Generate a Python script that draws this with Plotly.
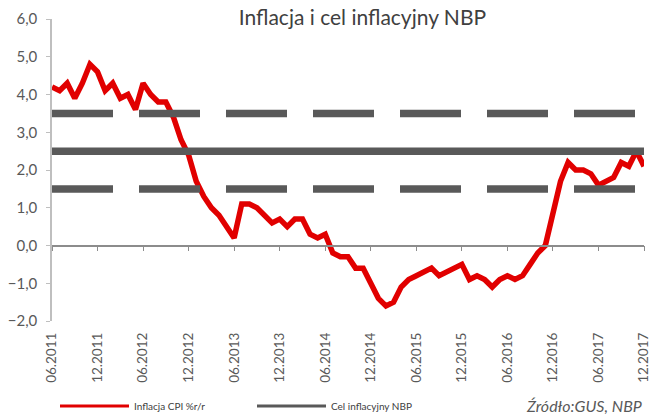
import plotly.graph_objects as go

# monthly CPI y/y, 06.2011 .. 12.2017
cpi = [
    4.2, 4.1, 4.3, 3.9, 4.3, 4.8, 4.6,                          # 2011 VI-XII
    4.1, 4.3, 3.9, 4.0, 3.6, 4.3, 4.0, 3.8, 3.8, 3.4, 2.8, 2.4,  # 2012
    1.7, 1.3, 1.0, 0.8, 0.5, 0.2, 1.1, 1.1, 1.0, 0.8, 0.6, 0.7,  # 2013
    0.5, 0.7, 0.7, 0.3, 0.2, 0.3, -0.2, -0.3, -0.3, -0.6, -0.6, -1.0,  # 2014
    -1.4, -1.6, -1.5, -1.1, -0.9, -0.8, -0.7, -0.6, -0.8, -0.7, -0.6, -0.5,  # 2015
    -0.9, -0.8, -0.9, -1.1, -0.9, -0.8, -0.9, -0.8, -0.5, -0.2, 0.0, 0.8,  # 2016
    1.7, 2.2, 2.0, 2.0, 1.9, 1.6, 1.7, 1.8, 2.2, 2.1, 2.5, 2.1,  # 2017
]
target = 2.5
band_upper = 3.5
band_lower = 1.5
tick_labels = ["06.2011", "12.2011", "06.2012", "12.2012", "06.2013", "12.2013",
               "06.2014", "12.2014", "06.2015", "12.2015", "06.2016", "12.2016",
               "06.2017", "12.2017"]

months = list(range(len(cpi)))
tick_pos = months[::6]

RED = "#e10000"
GREY = "#595959"
AXIS = "#8c8c8c"
FONT = "Lato"

fig = go.Figure()

fig.add_trace(go.Scatter(x=months, y=cpi, mode="lines", showlegend=False,
                         line=dict(color=RED, width=5.5)))
for lvl in (band_upper, band_lower):
    fig.add_trace(go.Scatter(x=months, y=[lvl] * len(months), mode="lines",
                             showlegend=False, xaxis="x2",
                             line=dict(color=GREY, width=7.5, dash="61px,26px")))
fig.add_trace(go.Scatter(x=months, y=[target] * len(months), mode="lines",
                         showlegend=False, xaxis="x2",
                         line=dict(color=GREY, width=7.5)))

# legend entries
fig.add_trace(go.Scatter(x=[None], y=[None], mode="lines", name="Inflacja CPI %r/r",
                         line=dict(color=RED, width=3)))
fig.add_trace(go.Scatter(x=[None], y=[None], mode="lines", name="Cel inflacyjny NBP",
                         line=dict(color=GREY, width=3)))

fig.update_layout(
    width=659, height=416,
    margin=dict(l=52, r=15, t=19, b=95),
    paper_bgcolor="white", plot_bgcolor="white",
    separators=", ",
    font=dict(family=FONT, color=GREY, size=13),
    title=dict(text="Inflacja i cel inflacyjny NBP", x=0.55, xanchor="center",
               y=1 - 18 / 416, yanchor="middle",
               font=dict(family=FONT, size=21, color="#404040")),
    xaxis=dict(range=[0, 78], tickmode="array", tickvals=tick_pos, ticktext=tick_labels,
               tickangle=-90, showgrid=False, zeroline=False, showline=False,
               ticks="", ticklabelstandoff=8, automargin=False,
               tickfont=dict(size=13.5, color=GREY)),
    xaxis2=dict(range=[0, 78], overlaying="x", anchor="free", position=0.25,
                side="bottom", tickmode="array", tickvals=tick_pos, showticklabels=False,
                ticks="outside", ticklen=5, tickcolor=AXIS, showline=True,
                linecolor=AXIS, linewidth=1.5, showgrid=False, zeroline=False,
                automargin=False),
    yaxis=dict(range=[-2, 6], dtick=1, tickformat=".1f", showgrid=False, zeroline=False,
               showline=True, linecolor="#bfbfbf", linewidth=1.5, ticks="outside",
               ticklen=4, tickcolor="#bfbfbf", ticklabelstandoff=6, automargin=False,
               tickfont=dict(size=15, color=GREY)),
    legend=dict(orientation="h", yref="container", y=1 - 406 / 416, yanchor="middle",
                xref="container", x=55 / 659, xanchor="left", itemwidth=69,
                entrywidth=113, font=dict(size=10, color="#404040"),
                bgcolor="rgba(0,0,0,0)"),
)

fig.add_annotation(text="<i>Źródło:GUS, NBP</i>", xref="paper", yref="paper",
                   x=1, y=-0.28, xanchor="right", yanchor="middle", showarrow=False,
                   font=dict(family=FONT, size=16, color=GREY))

fig.write_html("out.html", config={"displayModeBar": False},
               post_script="document.body.style.margin='0';")
